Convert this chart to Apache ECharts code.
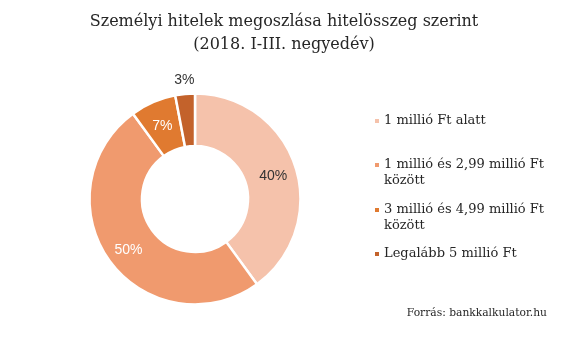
<!DOCTYPE html>
<html>
<head>
<meta charset="utf-8">
<script src="https://cdn.jsdelivr.net/npm/echarts@6/dist/echarts.min.js"></script>
<style>html,body{margin:0;padding:0;background:#fff;}#c{width:568px;height:338px;}</style>
</head>
<body>
<div id="c"></div>
<script>
const categories = ['1 millió Ft alatt', '1 millió és 2,99 millió Ft\nközött', '3 millió és 4,99 millió Ft\nközött', 'Legalább 5 millió Ft'];
const values = [40, 50, 7, 3];
const colors = ['#F5C2AB', '#F09A6E', '#E07A30', '#C3622B'];
const labelColors = ['#333333', '#FFFFFF', '#FFFFFF', '#333333'];
const titleText = 'Személyi hitelek megoszlása hitelösszeg szerint\n(2018. I-III. negyedév)';
const sourceText = 'Forrás: bankkalkulator.hu';

const serif = 'DejaVu Serif';
const legendTops = [113, 141, 186, 246];

const chart = echarts.init(document.getElementById('c'), null, {renderer: 'canvas'});

const legends = categories.map((name, i) => ({
  orient: 'vertical',
  left: 375,
  top: legendTops[i],
  padding: 0,
  itemWidth: 4,
  itemHeight: 4,
  icon: 'rect',
  selectedMode: false,
  itemStyle: {borderWidth: 0},
  data: [name],
  formatter: function (n) { return n.indexOf('\n') >= 0 ? '\n' + n : n; },
  textStyle: {fontFamily: serif, fontSize: 13, color: '#262626', lineHeight: 16}
}));

chart.setOption({
  animation: false,
  color: colors,
  title: [{
    text: titleText,
    left: 'center',
    top: 10,
    padding: 0,
    textStyle: {fontFamily: serif, fontSize: 16, fontWeight: 'normal', color: '#262626', lineHeight: 23, align: 'center'}
  }, {
    text: sourceText,
    right: 21,
    top: 306,
    padding: 0,
    textStyle: {fontFamily: serif, fontSize: 10.7, fontWeight: 'normal', color: '#262626', lineHeight: 14}
  }],
  legend: legends,
  series: [{
    type: 'pie',
    center: [195, 199],
    radius: [53, 105.5],
    startAngle: 90,
    clockwise: true,
    avoidLabelOverlap: false,
    itemStyle: {borderColor: '#ffffff', borderWidth: 2.5},
    label: {
      show: true,
      position: 'inside',
      formatter: '{c}%',
      fontFamily: 'Liberation Sans',
      fontSize: 14,
      offset: [0, 3]
    },
    labelLine: {show: false},
    data: categories.map((name, i) => {
      const item = {
        name: name,
        value: values[i],
        label: {color: labelColors[i]}
      };
      if (i === 3) {
        item.label.position = 'outside';
        item.label.distanceToLabelLine = -11;
        item.labelLine = {show: false, length: 17, length2: 0};
      }
      return item;
    })
  }]
});
</script>
</body>
</html>
